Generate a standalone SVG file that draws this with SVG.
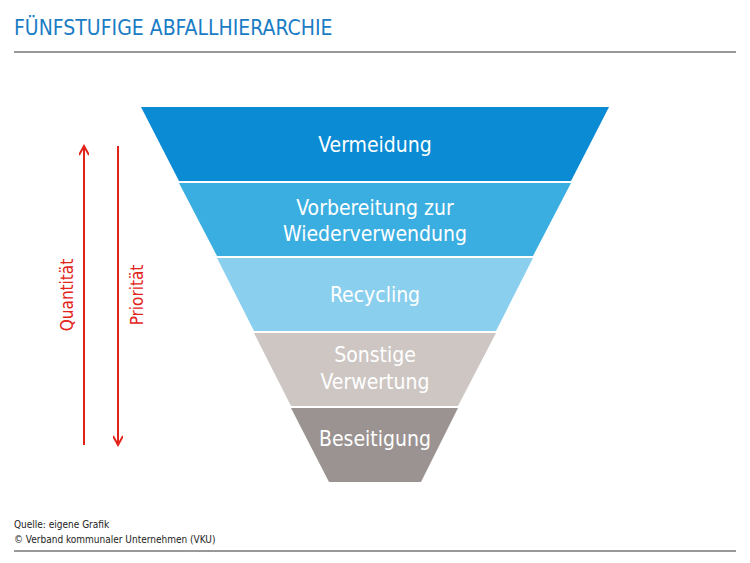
<svg xmlns="http://www.w3.org/2000/svg" width="750" height="563" viewBox="0 0 750 563">
<style>
text{font-family:"DejaVu Sans Condensed","DejaVu Sans",sans-serif;font-stretch:condensed}
.lbl{font-size:21px;fill:#fff;text-anchor:middle}
.red{font-size:17px;fill:#e2231a;text-anchor:middle}
.src{font-size:10px;fill:#222}
.ar{stroke:#e2231a;stroke-width:2;fill:none}
</style>
<defs><marker id="ah" markerWidth="12" markerHeight="10" refX="10" refY="5" orient="auto" markerUnits="userSpaceOnUse"><path d="M1,0 L10,5 L1,10" fill="none" stroke="#e2231a" stroke-width="2"/></marker></defs>
<rect width="750" height="563" fill="#fff"/>
<text x="14" y="35" style="font-size:21px;fill:#1a7cc4">FÜNFSTUFIGE ABFALLHIERARCHIE</text>
<line x1="14" y1="52" x2="736" y2="52" stroke="#333" stroke-width="1"/>
<g id="n1"><polygon points="141,107 609,107 571,181 179,181" fill="#0a8bd3"/><text class="lbl" x="375" y="152">Vermeidung</text></g>
<g id="n2"><polygon points="179,183 571,183 533,256 217,256" fill="#3aaee0"/><text class="lbl" x="375" y="215">Vorbereitung zur</text><text class="lbl" x="375" y="241">Wiederverwendung</text></g>
<g id="n3"><polygon points="217,258 533,258 496,331 254,331" fill="#8bcfee"/><text class="lbl" x="375" y="302">Recycling</text></g>
<g id="n4"><polygon points="254,333 496,333 458,406 291,406" fill="#cdc6c3"/><text class="lbl" x="375" y="362">Sonstige</text><text class="lbl" x="375" y="389">Verwertung</text></g>
<g id="n5"><polygon points="291,408 458,408 421,482 329,482" fill="#9a9391"/><text class="lbl" x="375" y="446">Beseitigung</text></g>
<g id="connectors">
<line class="ar" x1="84" y1="445" x2="84" y2="146" marker-end="url(#ah)"/>
<line class="ar" x1="118" y1="146" x2="118" y2="445" marker-end="url(#ah)"/>
</g>
<text class="red" transform="translate(73,295) rotate(-90)">Quantität</text>
<text class="red" transform="translate(143,295) rotate(-90)">Priorität</text>
<text class="src" x="14" y="528">Quelle: eigene Grafik</text>
<text class="src" x="14" y="543">© Verband kommunaler Unternehmen (VKU)</text>
<line x1="14" y1="551" x2="736" y2="551" stroke="#333" stroke-width="1"/>
</svg>
